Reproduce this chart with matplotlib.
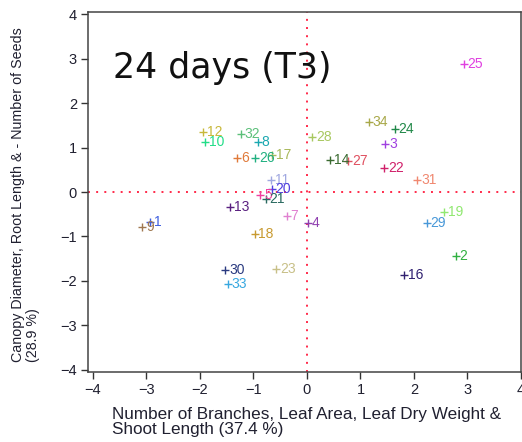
import matplotlib
matplotlib.use("Agg")
import matplotlib.pyplot as plt


# PCA scores for each genotype at 24 days (T3)
genotypes = [1, 2, 3, 4, 5, 6, 7, 8, 9, 10, 11, 12, 13, 14, 16, 17, 18,
             19, 20, 21, 22, 23, 24, 25, 26, 27, 28, 29, 30, 31, 32, 33, 34]
pc1 = [-2.93, 2.78, 1.46, 0.02, -0.87, -1.31, -0.38, -0.92, -3.08, -1.91,
       -0.67, -1.94, -1.43, 0.43, 1.81, -0.66, -0.98, 2.56, -0.66, -0.77,
       1.44, -0.57, 1.64, 2.93, -0.97, 0.77, 0.10, 2.24, -1.53, 2.06,
       -1.24, -1.48, 1.15]
pc2 = [-0.67, -1.44, 1.08, -0.69, -0.07, 0.76, -0.54, 1.13, -0.78, 1.12,
       0.27, 1.34, -0.33, 0.72, -1.87, 0.83, -0.95, -0.46, 0.07, -0.16,
       0.53, -1.74, 1.41, 2.87, 0.77, 0.70, 1.23, -0.70, -1.75, 0.28,
       1.30, -2.07, 1.58]
colors = ["#4060e0", "#30b040", "#a040e0", "#9040b0", "#f040a0", "#e07a3a",
          "#e080d0", "#1aa8b0", "#a07850", "#22dd88", "#a0a8e0", "#c8b83a",
          "#5a2080", "#3a6a30", "#302070", "#a8b85a", "#c89a30", "#90e870",
          "#5040e0", "#2a6a60", "#d0206a", "#c8c088", "#208848", "#e040e0",
          "#20b080", "#e05060", "#a8c860", "#4898d8", "#2a3a80", "#f08870",
          "#5cc07a", "#38a8e0", "#a8a848"]

xticks = [-4, -3, -2, -1, 0, 1, 2, 3, 4]
yticks = [-4, -3, -2, -1, 0, 1, 2, 3, 4]

plt.rcParams["font.family"] = ["Liberation Sans", "DejaVu Sans"]
txt_color = "#202030"

fig = plt.figure(figsize=(5.22, 4.42), dpi=100)
ax = fig.add_axes([88 / 522, 1 - 372 / 442, 433 / 522, 360 / 442])

for g, x, y, c in zip(genotypes, pc1, pc2, colors):
    ax.plot(x, y, marker="+", color=c, markersize=5.5, mew=1.0, ls="none")
    ax.annotate(str(g), (x, y), xytext=(2.8, 0), textcoords="offset points",
                ha="left", va="center", color=c, fontsize=10)

# reference lines through the origin
ax.axhline(0, color="#ff2a4a", lw=1.4, ls=(0, (1, 3.2)), zorder=0)
ax.axvline(0, color="#ff2a4a", lw=1.4, ls=(0, (1, 3.2)), zorder=0)

ax.set_xlim(-4.093, 4.0)
ax.set_ylim(-4.045, 4.045)
ax.set_xticks(xticks)
ax.set_yticks(yticks)
ax.tick_params(direction="out", length=5, width=1, color="#333333",
               labelsize=10.5, labelcolor=txt_color, pad=3)
for s in ax.spines.values():
    s.set_color("#444444")
    s.set_linewidth(1.1)

fig.text(113 / 522, 1 - 78 / 442, "24 days (T3)", fontsize=25,
         family="DejaVu Sans", color="#111111", va="baseline", ha="left")

fig.text(112 / 522, 1 - 407 / 442,
         "Number of Branches, Leaf Area, Leaf Dry Weight &\nShoot Length (37.4 %)",
         ha="left", va="top", fontsize=12.3, color=txt_color, linespacing=1.03)
fig.text(11 / 522, 1 - 362 / 442,
         "Canopy Diameter, Root Length & - Number of Seeds\n(28.9 %)",
         rotation=90, ha="left", va="bottom", multialignment="left",
         fontsize=10.3, color=txt_color, linespacing=1.12)

fig.savefig("out.png", dpi=100)
